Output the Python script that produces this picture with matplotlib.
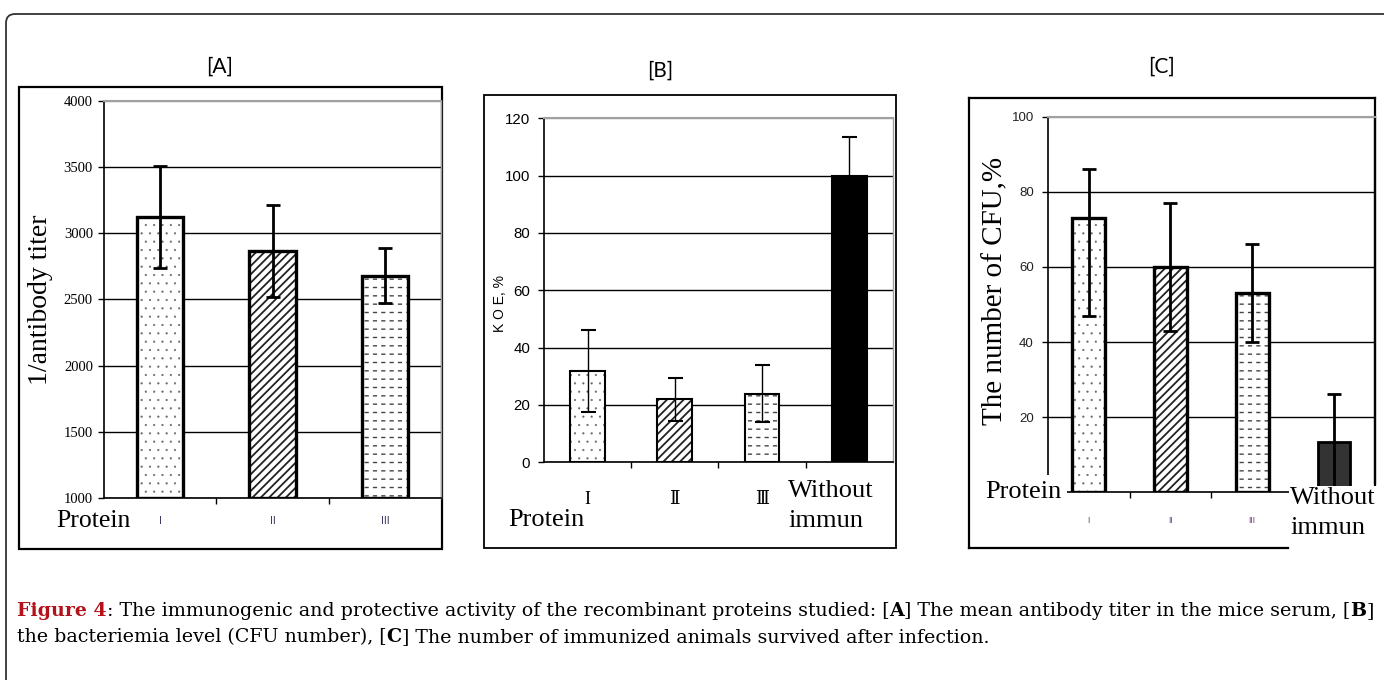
import matplotlib
matplotlib.use("Agg")
import numpy as np
import matplotlib.pyplot as plt
from matplotlib.patches import FancyBboxPatch, Rectangle
from matplotlib.lines import Line2D
from matplotlib import font_manager

# ---------------- data ----------------
cats_a = ["I", "II", "III"]
titer = [3120, 2865, 2680]
titer_err = [385, 345, 210]

cats_b = ["I", "\u2161", "\u2162", "Without\nimmun"]
koe = [32, 22, 24, 100]
koe_err = [14.3, 7.5, 10, 13.4]

cats_c = ["I", "II", "III", "Without\nimmun"]
cfu = [73, 60, 53, 13.5]
cfu_err_low = [26, 17, 13, 12.7]
cfu_err_up = [13, 17, 13, 12.7]

yticks_a = [1000, 1500, 2000, 2500, 3000, 3500, 4000]
yticks_b = [0, 20, 40, 60, 80, 100, 120]
yticks_c = [20, 40, 60, 80, 100]

# ---------------- fonts ----------------
names = {f.name for f in font_manager.fontManager.ttflist}
HAS_NARROW = 'Liberation Sans Narrow' in names
NARROW = 'Liberation Sans Narrow' if HAS_NARROW else 'Liberation Sans'
NS = 1.0 if HAS_NARROW else 0.83
SERIF = ['Liberation Serif', 'DejaVu Serif']
TITLEF = 'Lato' if 'Lato' in names else 'Liberation Sans'
plt.rcParams['hatch.linewidth'] = 1.0

W, H = 1384, 680
fig = plt.figure(figsize=(W / 100, H / 100), dpi=100)

# overlay axes for frames / caption
ov = fig.add_axes([0, 0, 1, 1])
ov.set_xlim(0, W)
ov.set_ylim(H, 0)
ov.axis('off')


def ax_at(l, t, r, b):
    a = fig.add_axes([l / W, 1 - b / H, (r - l) / W, (b - t) / H])
    a.set_facecolor('none')
    return a


def fline(xs, ys, lw=1.5, color='black'):
    ov.add_line(Line2D(xs, ys, lw=lw, color=color, solid_capstyle='projecting'))


# outer rounded border
ov.add_patch(FancyBboxPatch((6, 14), 1450, 720, boxstyle="round,pad=0,rounding_size=9",
                            fill=False, lw=1.3, edgecolor='#333333'))
# panel frames
ov.add_patch(Rectangle((19, 87), 423, 462, fill=False, lw=1.6, edgecolor='black'))
ov.add_patch(Rectangle((484, 95), 412, 453, fill=False, lw=1.3, edgecolor='black'))
fline([969, 1375], [98, 98], lw=1.6)
fline([969, 969], [98, 548], lw=1.6)
fline([969, 1288], [548, 548], lw=1.6)
fline([1375, 1375], [98, 483], lw=1.6)

# titles
ov.text(220, 67, "[A]", fontsize=15, family=TITLEF, ha='center', va='center')
ov.text(660, 71, "[B]", fontsize=15, family=TITLEF, ha='center', va='center')
ov.text(1162, 67, "[C]", fontsize=15, family=TITLEF, ha='center', va='center')


def style_axes(ax, yticks, ylim, ncat, top_color='#a0a0a0', right_color='#a0a0a0',
               spine_lw=1.2):
    ax.set_ylim(*ylim)
    ax.set_xlim(0, ncat)
    ax.set_yticks(yticks)
    ax.yaxis.grid(True, color='black', lw=1.0)
    ax.set_axisbelow(True)
    for s in ('left', 'bottom'):
        ax.spines[s].set_linewidth(spine_lw)
        ax.spines[s].set_color('black')
    ax.spines['top'].set_color(top_color)
    ax.spines['top'].set_linewidth(1.5)
    ax.spines['right'].set_color(right_color)
    ax.spines['right'].set_linewidth(1.0)
    ax.tick_params(axis='y', direction='out', length=4, width=1)
    ax.set_xticks(np.arange(ncat) + 0.5)
    ax.set_xticks(np.arange(1, ncat), minor=True)
    ax.tick_params(axis='x', which='major', length=0)
    ax.tick_params(axis='x', which='minor', direction='out', length=4, width=1)


def set_hlw(container, lw):
    for p in container:
        if hasattr(p, 'set_hatch_linewidth'):
            p.set_hatch_linewidth(lw)


def pattern_bar(ax, x, v, width, kind, edge_lw, bottom=0):
    """Draw one patterned bar: kind in 'dots', 'diag', 'dash'."""
    if kind == 'dots':
        c = ax.bar(x, v, width, bottom=bottom, color='white', edgecolor='#6a6a6a',
                   hatch='..', lw=0, zorder=2)
        set_hlw(c, 0.35)
    elif kind == 'diag':
        c = ax.bar(x, v, width, bottom=bottom, color='white', edgecolor='#222222',
                   hatch='////', lw=0, zorder=2)
        set_hlw(c, 1.3)
    elif kind == 'dash':
        c = ax.bar(x, v, width, bottom=bottom, color='white', edgecolor='#444444',
                   hatch='--', lw=0, zorder=2)
        set_hlw(c, 1.0)
        c2 = ax.bar(x, v, width, bottom=bottom, fill=False, edgecolor='white',
                    hatch='||', lw=0, zorder=2.05)
        set_hlw(c2, 3.0)
    ax.bar(x, v, width, bottom=bottom, fill=False, edgecolor='black', lw=edge_lw, zorder=2.1)


# ================= Panel A =================
axA = ax_at(104, 100.7, 441, 498)
style_axes(axA, yticks_a, (1000, 4000), 3)
xa = np.arange(len(cats_a)) + 0.5
for xi, v, k in zip(xa, titer, ['dots', 'diag', 'dash']):
    pattern_bar(axA, xi, v - 1000, 0.41, k, 2.4, bottom=1000)
axA.errorbar(xa, titer, yerr=titer_err, fmt='none', ecolor='black', elinewidth=2,
             capsize=4.7, capthick=2, zorder=3)
axA.get_ygridlines()[-1].set_color('#a0a0a0')
axA.set_xticklabels(cats_a, family=NARROW, fontsize=9 * NS, color='#3b2a60')
axA.tick_params(axis='x', which='major', pad=13)
axA.set_yticklabels([str(v) for v in yticks_a], family=SERIF, fontsize=10.5)
axA.tick_params(axis='y', pad=4)
axA.set_ylabel("1/antibody titer", family=SERIF, fontsize=20)
axA.yaxis.set_label_coords((53 - 104) / (441 - 104), 0.5)
ov.text(56, 521, "Protein", family=SERIF, fontsize=18.5, ha='left', va='center')

# ================= Panel B =================
axB = ax_at(544, 118.3, 892.7, 462.3)
style_axes(axB, yticks_b, (0, 120), 4)
xb = np.arange(len(cats_b)) + 0.5
for xi, v, k in zip(xb, koe, ['dots', 'diag', 'dash', None]):
    if k:
        pattern_bar(axB, xi, v, 0.4, k, 1.5)
    else:
        axB.bar(xi, v, 0.4, color='black', edgecolor='black', lw=1.5, zorder=2)
axB.errorbar(xb, koe, yerr=koe_err, fmt='none', ecolor='black', elinewidth=1,
             capsize=5.4, capthick=1.5, zorder=3)
axB.get_ygridlines()[-1].set_color('#a0a0a0')
axB.set_xticklabels(cats_b[:3] + [""], family=SERIF + ['DejaVu Sans'], fontsize=13)
axB.tick_params(axis='x', which='major', pad=21)
axB.set_yticklabels([str(v) for v in yticks_b], family=NARROW, fontsize=13 * NS)
axB.tick_params(axis='y', pad=6)
axB.set_ylabel("K O E, %", family=NARROW, fontsize=10)
axB.yaxis.set_label_coords((507 - 544) / (892.7 - 544), (462.3 - 304) / (462.3 - 118.3))
ov.text(788, 506, cats_b[3], family=SERIF, fontsize=19, ha='left', va='center',
        linespacing=1.45)
ov.text(508, 520, "Protein", family=SERIF, fontsize=19, ha='left', va='center')

# ================= Panel C =================
axC = ax_at(1047.7, 116.7, 1375, 492.4)
style_axes(axC, yticks_c, (0, 100), 4, right_color='black')
axC.spines['right'].set_linewidth(1.6)
xc = np.arange(len(cats_c)) + 0.5
for xi, v, k in zip(xc, cfu, ['dots', 'diag', 'dash', None]):
    if k:
        pattern_bar(axC, xi, v, 0.4, k, 2.4)
    else:
        axC.bar(xi, v, 0.4, color='#333333', edgecolor='black', lw=2, zorder=2)
axC.errorbar(xc, cfu, yerr=[cfu_err_low, cfu_err_up], fmt='none', ecolor='black',
             elinewidth=2, capsize=4.8, capthick=2, zorder=3)
axC.get_ygridlines()[-1].set_color('#a0a0a0')
axC.set_xticklabels(cats_c[:3] + [""], family=NARROW, fontsize=7.5 * NS, color='#6a3d80')
axC.tick_params(axis='x', which='major', pad=17)
axC.set_yticklabels([str(v) for v in yticks_c], family=NARROW, fontsize=11.5 * NS,
                    color='#222222')
axC.tick_params(axis='y', pad=6)
axC.set_ylabel("The number of CFU,%", family=SERIF, fontsize=21)
axC.yaxis.set_label_coords((1008 - 1047.7) / (1375 - 1047.7), (492.4 - 291) / (492.4 - 116.7))
axC.text(985, 492, "Protein", family=SERIF, fontsize=19, ha='left', va='center',
         transform=ov.transData, zorder=10, clip_on=False,
         bbox=dict(facecolor='white', edgecolor='none', pad=4))
axC.text(1290, 513, cats_c[3], family=SERIF, fontsize=19, ha='left', va='center',
         linespacing=1.45, transform=ov.transData, zorder=10, clip_on=False,
         bbox=dict(facecolor='white', edgecolor='none', pad=1))

# ================= Caption =================
RED = '#b3121b'
line1 = [("Figure 4", 'bold', RED), (": The immunogenic and protective activity of the "
         "recombinant proteins studied: [", 'normal', 'black'), ("A", 'bold', 'black'),
         ("] The mean antibody titer in the mice serum, [", 'normal', 'black'),
         ("B", 'bold', 'black'), ("]", 'normal', 'black')]
line2 = [("the bacteriemia level (CFU number), [", 'normal', 'black'), ("C", 'bold', 'black'),
         ("] The number of immunized animals survived after infection.", 'normal', 'black')]

CAPF = 'DejaVu Serif'


def put_line(segs, x0, ybottom, size):
    prev = None
    out = []
    for txt, wt, col in segs:
        if prev is None:
            t = ov.text(x0, ybottom, txt, fontsize=size, family=CAPF, weight=wt, color=col,
                        ha='left', va='bottom')
        else:
            t = ov.annotate(txt, xy=(1, 0), xycoords=prev, fontsize=size, family=CAPF,
                            weight=wt, color=col, ha='left', va='bottom')
        out.append(t)
        prev = t
    return out


size = 12.0
l1 = put_line(line1, 17, 620, size)
l2 = put_line(line2, 17, 646, size)
for _ in range(3):
    fig.canvas.draw()
    r = fig.canvas.get_renderer()
    x_start = l1[0].get_window_extent(r).x0
    x_end = l1[-1].get_window_extent(r).x1
    size = size * (1370 - 17) / (x_end - x_start)
    for t in l1 + l2:
        t.set_fontsize(size)

fig.savefig("out.png", dpi=100)
